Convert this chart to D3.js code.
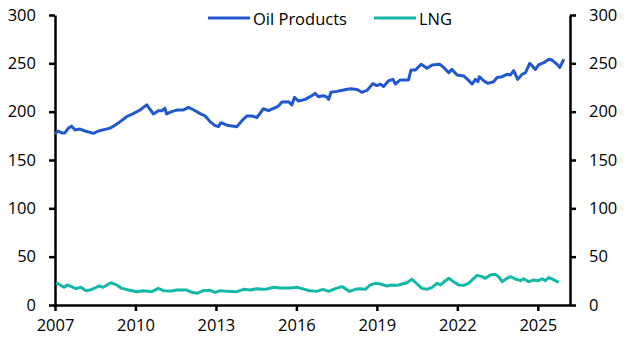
<!DOCTYPE html>
<html>
<head>
<meta charset="utf-8">
<script src="https://cdn.jsdelivr.net/npm/d3@7"></script>
<style>
  html, body { margin: 0; padding: 0; background: #fff; }
  svg text { font-family: "Open Sans", "Noto Sans", sans-serif; fill: #000; }
</style>
</head>
<body>
<svg id="chart" width="629" height="352"></svg>
<script>
// ---- Data ----
const seriesNames = ["Oil Products", "LNG"];
const seriesColors = ["#2158d0", "#14b8a6"];

const xTickYears = [2007, 2010, 2013, 2016, 2019, 2022, 2025];
const yTickValues = [0, 50, 100, 150, 200, 250, 300];

const oilYears = [2007.00,2007.12,2007.25,2007.37,2007.50,2007.62,2007.75,2007.93,2008.12,2008.43,2008.62,2008.87,2009.05,2009.24,2009.43,2009.68,2009.92,2010.17,2010.42,2010.67,2010.85,2010.98,2011.10,2011.16,2011.35,2011.54,2011.79,2011.97,2012.16,2012.41,2012.60,2012.78,2012.97,2013.09,2013.18,2013.41,2013.78,2013.97,2014.15,2014.34,2014.53,2014.77,2014.96,2015.15,2015.33,2015.46,2015.71,2015.83,2015.93,2016.08,2016.33,2016.51,2016.70,2016.82,2017.01,2017.14,2017.20,2017.29,2017.51,2017.76,2018.01,2018.26,2018.44,2018.63,2018.85,2019.00,2019.13,2019.25,2019.44,2019.60,2019.69,2019.87,2020.18,2020.27,2020.43,2020.65,2020.87,2021.06,2021.34,2021.49,2021.68,2021.80,2021.99,2022.24,2022.38,2022.55,2022.67,2022.77,2022.82,2022.98,2023.13,2023.35,2023.48,2023.67,2023.85,2023.98,2024.10,2024.25,2024.41,2024.54,2024.70,2024.91,2025.03,2025.22,2025.41,2025.53,2025.72,2025.82,2025.97];
const oilValues = [177,180,178,178,183,185,181,182,180,177.6,180,181.7,183,186,189.7,195,198,201.7,207,197.6,201,201,203.5,197.6,200,201.6,201.7,204.5,202,198,195.5,189.7,185.5,184.5,188.6,186,184.5,190.7,195.5,195.5,194,203,201,203.5,205.8,210,210.3,207,214.8,211,212.7,215.5,218.9,215.5,216.5,215,212.7,220,221,222.4,223.8,223,220,222,229,227,228.5,226,232,233.4,228.6,232.8,232.8,243,243,249,244.8,248.3,249,245.8,240.3,243.7,237.9,236.9,233.4,228.6,233.4,231,236.2,232,229.3,231,235.4,236.2,238.6,238,242.4,233.4,238.6,240.3,250,243.7,248.3,250.7,254.2,253.4,249,245.8,254.2];

const lngYears = [2007.04,2007.19,2007.34,2007.46,2007.62,2007.78,2007.96,2008.16,2008.31,2008.49,2008.65,2008.80,2009.08,2009.28,2009.49,2009.74,2010.05,2010.29,2010.61,2010.85,2011.04,2011.35,2011.54,2011.91,2012.10,2012.29,2012.53,2012.78,2012.97,2013.16,2013.41,2013.78,2014.03,2014.28,2014.53,2014.71,2014.90,2015.15,2015.40,2015.77,2016.02,2016.21,2016.39,2016.51,2016.76,2016.99,2017.20,2017.45,2017.70,2017.98,2018.19,2018.38,2018.57,2018.75,2018.94,2019.13,2019.38,2019.56,2019.75,2019.94,2020.12,2020.31,2020.50,2020.68,2020.87,2021.06,2021.24,2021.37,2021.51,2021.68,2021.86,2022.05,2022.24,2022.42,2022.55,2022.74,2022.92,2023.04,2023.23,2023.42,2023.54,2023.67,2023.85,2023.98,2024.16,2024.35,2024.47,2024.66,2024.85,2025.03,2025.16,2025.28,2025.41,2025.60,2025.78];
const lngValues = [23,20.7,18.3,20.7,19,16.9,18.3,14.8,15.5,17.6,19.7,18.3,23,21,17.2,15.5,13.8,14.8,13.8,17.2,14.8,14.5,15.5,15.5,13.1,12.1,14.8,15.2,13.1,14.8,14.1,13.8,16.2,15.5,16.9,16.2,16.6,18.3,17.6,17.6,18.3,16.9,15.5,14.8,14.1,16.2,14.1,16.9,19,14.1,16.2,16.9,16.2,20.7,22.4,21.7,19.7,20.7,20.3,21.7,23,26.6,21.7,17.2,16.2,18.3,22.4,20.7,24.1,27.6,24.1,20.7,20.3,22.4,25.9,30.7,29.3,27.6,31,31.7,29.3,24.1,27.6,29.3,26.9,25.2,27.2,24.1,25.9,25.2,27.2,25.2,28.3,25.9,23.4];

// ---- Layout ----
const W = 629, H = 352;
const margin = { left: 55, right: 59, top: 15, bottom: 47 };
const svg = d3.select("#chart");

const x = d3.scaleLinear().domain([2007, 2026.2]).range([margin.left, W - margin.right]);
const y = d3.scaleLinear().domain([0, 300]).range([H - margin.bottom, margin.top]);

const fontSize = "16.5px";

function styleAxis(g) {
  g.select(".domain").attr("stroke", "#000").attr("stroke-width", 2.5);
  g.selectAll(".tick line").attr("stroke", "#000").attr("stroke-width", 2.5);
  g.selectAll(".tick text").style("font-size", fontSize).attr("fill", "#000");
}

// Left axis
svg.append("g")
  .attr("transform", `translate(${margin.left},0)`)
  .call(d3.axisLeft(y).tickValues(yTickValues).tickSize(6).tickSizeOuter(0).tickPadding(13))
  .call(styleAxis);

// Right axis
svg.append("g")
  .attr("transform", `translate(${W - margin.right},0)`)
  .call(d3.axisRight(y).tickValues(yTickValues).tickSize(6).tickSizeOuter(0).tickPadding(13))
  .call(styleAxis);

// Bottom axis
svg.append("g")
  .attr("transform", `translate(0,${H - margin.bottom})`)
  .call(d3.axisBottom(x).tickValues(xTickYears).tickFormat(d3.format("d")).tickSize(6).tickSizeOuter(0).tickPadding(8))
  .call(styleAxis);

// Lines
const line = d3.line().x(d => x(d[0])).y(d => y(d[1]));
const oilData = oilYears.map((yr, i) => [yr, oilValues[i]]);
const lngData = lngYears.map((yr, i) => [yr, lngValues[i]]);

[lngData, oilData].forEach((data, k) => {
  const idx = k === 0 ? 1 : 0;
  svg.append("path")
    .datum(data)
    .attr("fill", "none")
    .attr("stroke", seriesColors[idx])
    .attr("stroke-width", 3)
    .attr("stroke-linejoin", "round")
    .attr("d", line);
});

// Legend
const legendItems = [
  { name: seriesNames[0], color: seriesColors[0], x0: 208 },
  { name: seriesNames[1], color: seriesColors[1], x0: 374 }
];
const legY = 18;
legendItems.forEach(it => {
  svg.append("line")
    .attr("x1", it.x0).attr("x2", it.x0 + 42)
    .attr("y1", legY).attr("y2", legY)
    .attr("stroke", it.color).attr("stroke-width", 3);
  svg.append("text")
    .attr("x", it.x0 + 45).attr("y", legY)
    .attr("dominant-baseline", "central")
    .style("font-size", fontSize)
    .text(it.name);
});
</script>
</body>
</html>
